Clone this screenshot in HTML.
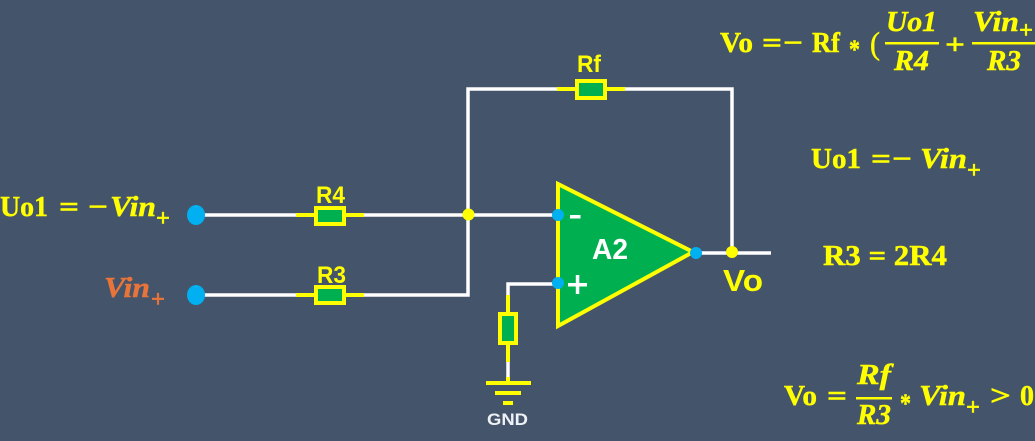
<!DOCTYPE html>
<html>
<head>
<meta charset="utf-8">
<style>
html,body{margin:0;padding:0;background:#44546a;width:1035px;height:441px;overflow:hidden}
svg{display:block}
.m{font-family:"Liberation Serif",serif;font-weight:bold;fill:#ffff00;stroke:#ffff00;stroke-width:.45px;font-size:28px}
.m text{stroke-width:.45px}
.i{font-style:italic}
.s{font-family:"Liberation Sans",sans-serif;font-weight:bold;fill:#ffff00}
</style>
</head>
<body>
<svg width="1035" height="441" viewBox="0 0 1035 441" xmlns="http://www.w3.org/2000/svg">
<rect width="1035" height="441" fill="#44546a"/>

<!-- wires -->
<g fill="none" stroke="#ffffff" stroke-width="3.5">
<path d="M196 215H558"/>
<path d="M196 295H468V89H732V253"/>
<path d="M696 253H771"/>
<path d="M558 284H508V296"/>
<path d="M508 360V378"/>
</g>

<!-- resistors -->
<g stroke="#ffff00" stroke-width="4">
<path d="M296 215H364M296 295H364M557 89H625" fill="none"/>
<rect x="316" y="208" width="28" height="16" fill="#00b050"/>
<rect x="316" y="287" width="28" height="16" fill="#00b050"/>
<rect x="577" y="81" width="28" height="17" fill="#00b050"/>
<path d="M508 295V362M508 377V383" fill="none"/>
<rect x="500" y="314" width="16" height="29" fill="#00b050"/>
</g>

<!-- ground -->
<g fill="#ffff00">
<rect x="486" y="381" width="45" height="4"/>
<rect x="495" y="391" width="26" height="4"/>
<rect x="503" y="401" width="10" height="4"/>
</g>
<text x="487" y="425" font-family="'Liberation Sans',sans-serif" font-weight="bold" font-size="17" fill="#eef2f6" textLength="41" lengthAdjust="spacingAndGlyphs">GND</text>

<!-- op amp -->
<path d="M558 184V326L693 252Z" fill="#00b050" stroke="#ffff00" stroke-width="4"/>
<text x="592" y="259" font-family="'Liberation Sans',sans-serif" font-weight="bold" font-size="29" fill="#ffffff" textLength="36" lengthAdjust="spacingAndGlyphs">A2</text>
<rect x="570" y="215" width="10.500" height="3.5" fill="#ffffff"/>
<rect x="568" y="283" width="19" height="3.5" fill="#ffffff"/>
<rect x="575.8" y="275" width="3.5" height="19" fill="#ffffff"/>

<!-- dots -->
<g fill="#00b0f0">
<ellipse cx="196" cy="215" rx="9" ry="10"/>
<ellipse cx="196" cy="295" rx="9" ry="10"/>
<circle cx="558" cy="215" r="6"/>
<circle cx="558" cy="283" r="6"/>
<circle cx="696" cy="253" r="6"/>
</g>
<g fill="#ffff00">
<circle cx="468.5" cy="214.5" r="6"/>
<circle cx="732" cy="252" r="6"/>
</g>

<!-- component labels -->
<text class="s" x="316" y="203" font-size="24" textLength="29" lengthAdjust="spacingAndGlyphs">R4</text>
<text class="s" x="317" y="283" font-size="24" textLength="29" lengthAdjust="spacingAndGlyphs">R3</text>
<text class="s" x="577" y="72" font-size="24" textLength="24" lengthAdjust="spacingAndGlyphs">Rf</text>
<text class="s" x="723" y="291" font-size="31" textLength="40" lengthAdjust="spacingAndGlyphs">Vo</text>

<!-- left labels -->
<g class="m">
<text x="0" y="216" textLength="48" lengthAdjust="spacingAndGlyphs">Uo1</text>
<text x="59" y="216" textLength="20" lengthAdjust="spacingAndGlyphs">=</text>
<text x="88" y="216" textLength="20" lengthAdjust="spacingAndGlyphs">−</text>
<text class="i" x="110" y="216" textLength="46" lengthAdjust="spacingAndGlyphs">Vin</text>
<text x="156" y="226" font-size="24" textLength="14" lengthAdjust="spacingAndGlyphs">+</text>
</g>
<g class="m" style="fill:#e9743a;stroke:#e9743a">
<text class="i" x="104" y="297" textLength="46" lengthAdjust="spacingAndGlyphs">Vin</text>
<text x="151" y="307" font-size="24" textLength="14" lengthAdjust="spacingAndGlyphs">+</text>
</g>

<!-- formula 1 -->
<g class="m">
<text x="720" y="52" textLength="33" lengthAdjust="spacingAndGlyphs">Vo</text>
<text x="762" y="52" textLength="20" lengthAdjust="spacingAndGlyphs">=</text>
<text x="783" y="52" textLength="20" lengthAdjust="spacingAndGlyphs">−</text>
<text x="812" y="52" textLength="28" lengthAdjust="spacingAndGlyphs">Rf</text>
<text x="849" y="58" font-size="26" textLength="11" lengthAdjust="spacingAndGlyphs">*</text>
<text x="870" y="54" style="font-weight:normal" font-size="32" textLength="10" lengthAdjust="spacingAndGlyphs">(</text>
<text class="i" x="886" y="31" textLength="51" lengthAdjust="spacingAndGlyphs">Uo1</text>
<rect x="885" y="42" width="54" height="2.500" stroke="none"/>
<text class="i" x="894" y="70" textLength="35" lengthAdjust="spacingAndGlyphs">R4</text>
<text x="945" y="54" textLength="20" lengthAdjust="spacingAndGlyphs">+</text>
<text class="i" x="973" y="31" textLength="46" lengthAdjust="spacingAndGlyphs">Vin</text>
<text x="1019" y="38" font-size="24" textLength="14" lengthAdjust="spacingAndGlyphs">+</text>
<rect x="972" y="42" width="63" height="2.500" stroke="none"/>
<text class="i" x="987" y="70" textLength="34" lengthAdjust="spacingAndGlyphs">R3</text>
</g>

<!-- formula 2 -->
<g class="m">
<text x="811" y="168" textLength="50" lengthAdjust="spacingAndGlyphs">Uo1</text>
<text x="871" y="168" textLength="20" lengthAdjust="spacingAndGlyphs">=</text>
<text x="892" y="168" textLength="20" lengthAdjust="spacingAndGlyphs">−</text>
<text class="i" x="920" y="168" textLength="47" lengthAdjust="spacingAndGlyphs">Vin</text>
<text x="967" y="178" font-size="24" textLength="14" lengthAdjust="spacingAndGlyphs">+</text>
</g>

<!-- formula 3 -->
<text class="m" x="823" y="265" textLength="124" lengthAdjust="spacingAndGlyphs">R3 = 2R4</text>

<!-- formula 4 -->
<g class="m">
<text x="784" y="405" textLength="33" lengthAdjust="spacingAndGlyphs">Vo</text>
<text x="827" y="405" textLength="20" lengthAdjust="spacingAndGlyphs">=</text>
<text class="i" x="857" y="384" textLength="34" lengthAdjust="spacingAndGlyphs">Rf</text>
<rect x="856" y="397" width="36" height="2.500" stroke="none"/>
<text class="i" x="857" y="424" textLength="34" lengthAdjust="spacingAndGlyphs">R3</text>
<text x="900" y="412" font-size="26" textLength="11" lengthAdjust="spacingAndGlyphs">*</text>
<text class="i" x="919" y="405" textLength="47" lengthAdjust="spacingAndGlyphs">Vin</text>
<text x="966" y="415" font-size="24" textLength="14" lengthAdjust="spacingAndGlyphs">+</text>
<text x="990" y="405" textLength="21" lengthAdjust="spacingAndGlyphs">&gt;</text>
<text x="1020" y="405" textLength="14" lengthAdjust="spacingAndGlyphs">0</text>
</g>
</svg>
</body>
</html>
